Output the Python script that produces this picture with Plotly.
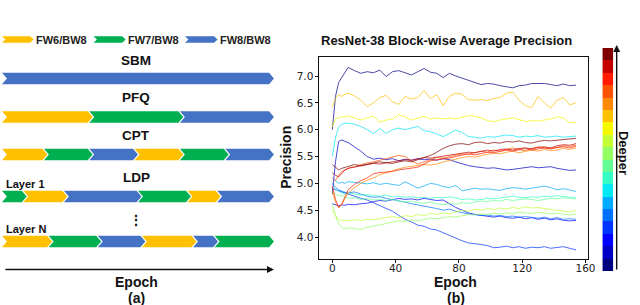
import numpy as np
import plotly.graph_objects as go

# ---------------- data: panel (b) ----------------
EPOCHS = [0, 2, 4, 6, 8, 10, 14, 18, 22, 26, 30, 34, 38, 42, 46, 50, 54, 58, 62, 66, 70,
          74, 78, 82, 86, 90, 94, 98, 102, 106, 110, 114, 118, 122, 126, 130, 134, 138,
          142, 146, 150, 154]

BLOCK_00 = [6.00, 6.62, 6.88, 6.98, 7.08, 7.16, 7.10, 7.05, 7.08, 7.06, 7.11, 6.99, 7.08, 7.10,
            7.06, 7.02, 7.08, 7.14, 7.07, 7.05, 6.97, 7.05, 7.00, 6.96, 6.92, 6.87, 6.84, 6.86,
            6.85, 6.82, 6.80, 6.78, 6.82, 6.83, 6.86, 6.86, 6.86, 6.84, 6.82, 6.85, 6.82, 6.83]
BLOCK_01 = [4.80, 5.40, 5.78, 5.81, 5.78, 5.76, 5.68, 5.60, 5.50, 5.45, 5.47, 5.44, 5.46, 5.42,
            5.45, 5.43, 5.46, 5.44, 5.45, 5.43, 5.46, 5.44, 5.40, 5.36, 5.33, 5.31, 5.30, 5.28,
            5.29, 5.27, 5.25, 5.26, 5.28, 5.30, 5.31, 5.29, 5.30, 5.31, 5.28, 5.26, 5.24, 5.25]
BLOCK_02 = [4.62, 4.60, 4.58, 4.60, 4.59, 4.61, 4.60, 4.62, 4.63, 4.66, 4.68, 4.67, 4.70, 4.72,
            4.70, 4.71, 4.69, 4.72, 4.70, 4.68, 4.69, 4.62, 4.55, 4.50, 4.45, 4.42, 4.40, 4.38,
            4.37, 4.39, 4.36, 4.35, 4.37, 4.34, 4.36, 4.33, 4.35, 4.32, 4.34, 4.31, 4.30, 4.31]
BLOCK_03 = [4.90, 4.88, 4.85, 4.83, 4.82, 4.80, 4.76, 4.72, 4.69, 4.64, 4.58, 4.54, 4.48, 4.40,
            4.33, 4.28, 4.22, 4.20, 4.15, 4.13, 4.08, 4.02, 3.98, 3.93, 3.89, 3.88, 3.86, 3.84,
            3.80, 3.81, 3.83, 3.80, 3.82, 3.79, 3.81, 3.80, 3.82, 3.79, 3.80, 3.82, 3.79, 3.76]
BLOCK_04 = [5.00, 4.92, 4.88, 4.85, 4.83, 4.82, 4.84, 4.80, 4.76, 4.74, 4.75, 4.72, 4.70, 4.68,
            4.65, 4.62, 4.60, 4.58, 4.55, 4.53, 4.50, 4.52, 4.48, 4.45, 4.43, 4.42, 4.40, 4.41,
            4.39, 4.40, 4.38, 4.39, 4.37, 4.38, 4.36, 4.35, 4.37, 4.34, 4.36, 4.33, 4.34, 4.33]
BLOCK_05 = [5.10, 5.05, 5.00, 5.02, 5.00, 5.03, 5.02, 5.00, 4.99, 5.01, 4.98, 5.00, 4.98, 4.96,
            5.03, 4.97, 4.91, 4.95, 5.00, 4.98, 4.94, 4.92, 4.96, 4.86, 4.88, 4.91, 4.89, 4.90,
            4.88, 4.87, 4.90, 4.92, 4.91, 4.89, 4.91, 4.93, 4.95, 4.92, 4.88, 4.90, 4.87, 4.85]
BLOCK_06 = [5.50, 5.85, 6.05, 6.10, 6.12, 6.12, 6.10, 6.06, 6.00, 5.93, 6.02, 5.93, 6.00, 6.03,
            6.00, 6.03, 6.06, 5.98, 5.96, 5.92, 5.87, 5.93, 5.99, 5.95, 5.87, 5.86, 5.84, 5.87,
            5.86, 5.88, 5.90, 5.89, 5.86, 5.88, 5.87, 5.89, 5.86, 5.87, 5.88, 5.86, 5.87, 5.88]
BLOCK_07 = [4.95, 4.88, 4.85, 4.82, 4.80, 4.82, 4.80, 4.78, 4.79, 4.77, 4.76, 4.78, 4.75, 4.76,
            4.74, 4.75, 4.73, 4.74, 4.72, 4.74, 4.73, 4.75, 4.72, 4.70, 4.71, 4.69, 4.70, 4.72,
            4.71, 4.73, 4.74, 4.76, 4.74, 4.73, 4.75, 4.74, 4.76, 4.75, 4.77, 4.75, 4.74, 4.73]
BLOCK_08 = [4.85, 4.80, 4.76, 4.78, 4.74, 4.72, 4.73, 4.70, 4.72, 4.69, 4.70, 4.68, 4.70, 4.67,
            4.65, 4.67, 4.64, 4.63, 4.65, 4.62, 4.60, 4.63, 4.61, 4.64, 4.62, 4.65, 4.67, 4.66,
            4.68, 4.67, 4.70, 4.68, 4.69, 4.71, 4.70, 4.68, 4.70, 4.72, 4.71, 4.73, 4.72, 4.71]
BLOCK_09 = [4.60, 4.40, 4.25, 4.18, 4.15, 4.17, 4.16, 4.14, 4.18, 4.20, 4.22, 4.25, 4.28, 4.30,
            4.29, 4.32, 4.30, 4.33, 4.35, 4.34, 4.36, 4.38, 4.37, 4.40, 4.42, 4.41, 4.43, 4.42,
            4.44, 4.43, 4.45, 4.44, 4.46, 4.45, 4.44, 4.46, 4.45, 4.43, 4.44, 4.42, 4.41, 4.43]
BLOCK_10 = [4.50, 4.40, 4.33, 4.30, 4.31, 4.30, 4.32, 4.31, 4.33, 4.32, 4.34, 4.36, 4.38, 4.36,
            4.40, 4.38, 4.42, 4.40, 4.44, 4.42, 4.45, 4.43, 4.47, 4.50, 4.48, 4.52, 4.50, 4.53,
            4.51, 4.54, 4.52, 4.55, 4.53, 4.56, 4.54, 4.55, 4.53, 4.51, 4.50, 4.48, 4.47, 4.49]
BLOCK_11 = [6.05, 6.20, 6.22, 6.24, 6.23, 6.26, 6.22, 6.18, 6.22, 6.25, 6.14, 6.18, 6.20, 6.28,
            6.24, 6.18, 6.21, 6.25, 6.20, 6.22, 6.20, 6.22, 6.20, 6.23, 6.26, 6.25, 6.22, 6.17,
            6.15, 6.18, 6.20, 6.22, 6.19, 6.15, 6.17, 6.16, 6.18, 6.20, 6.24, 6.22, 6.13, 6.13]
BLOCK_12 = [6.42, 6.58, 6.65, 6.62, 6.66, 6.68, 6.63, 6.55, 6.43, 6.50, 6.60, 6.64, 6.52, 6.47,
            6.62, 6.57, 6.60, 6.73, 6.58, 6.65, 6.45, 6.62, 6.68, 6.66, 6.56, 6.55, 6.56, 6.54,
            6.58, 6.60, 6.68, 6.70, 6.55, 6.45, 6.41, 6.62, 6.50, 6.40, 6.55, 6.60, 6.46, 6.50]
BLOCK_13 = [4.85, 4.65, 4.55, 4.60, 4.72, 4.82, 4.92, 5.00, 5.06, 5.10, 5.16, 5.20, 5.24, 5.27,
            5.30, 5.32, 5.33, 5.35, 5.34, 5.36, 5.40, 5.42, 5.45, 5.48, 5.50, 5.49, 5.52, 5.54,
            5.56, 5.55, 5.58, 5.60, 5.57, 5.59, 5.62, 5.60, 5.63, 5.61, 5.62, 5.65, 5.63, 5.66]
BLOCK_14 = [5.10, 5.05, 5.15, 5.22, 5.25, 5.28, 5.31, 5.35, 5.38, 5.40, 5.43, 5.45, 5.48, 5.52,
            5.50, 5.42, 5.36, 5.40, 5.45, 5.48, 5.47, 5.50, 5.53, 5.55, 5.54, 5.57, 5.60, 5.58,
            5.62, 5.60, 5.63, 5.66, 5.63, 5.61, 5.65, 5.68, 5.66, 5.64, 5.67, 5.70, 5.69, 5.71]
BLOCK_15 = [4.95, 4.70, 4.55, 4.62, 4.75, 4.88, 4.98, 5.05, 5.10, 5.18, 5.20, 5.21, 5.22, 5.25,
            5.27, 5.28, 5.30, 5.36, 5.42, 5.44, 5.45, 5.47, 5.50, 5.52, 5.55, 5.53, 5.56, 5.58,
            5.57, 5.60, 5.62, 5.60, 5.63, 5.65, 5.62, 5.64, 5.66, 5.65, 5.67, 5.68, 5.66, 5.69]
BLOCK_16 = [5.20, 5.15, 5.12, 5.18, 5.25, 5.28, 5.30, 5.33, 5.35, 5.37, 5.36, 5.38, 5.40, 5.42,
            5.44, 5.43, 5.46, 5.48, 5.47, 5.49, 5.50, 5.53, 5.55, 5.56, 5.58, 5.57, 5.60, 5.62,
            5.60, 5.63, 5.64, 5.62, 5.65, 5.66, 5.64, 5.67, 5.68, 5.66, 5.70, 5.72, 5.71, 5.74]
BLOCK_17 = [5.35, 5.30, 5.25, 5.28, 5.30, 5.32, 5.35, 5.33, 5.36, 5.38, 5.40, 5.38, 5.37, 5.40,
            5.42, 5.40, 5.44, 5.48, 5.52, 5.58, 5.65, 5.70, 5.73, 5.74, 5.72, 5.76, 5.77, 5.74,
            5.76, 5.75, 5.78, 5.77, 5.79, 5.76, 5.75, 5.78, 5.80, 5.79, 5.80, 5.81, 5.82, 5.84]

BLOCKS = [BLOCK_00, BLOCK_01, BLOCK_02, BLOCK_03, BLOCK_04, BLOCK_05, BLOCK_06, BLOCK_07,
          BLOCK_08, BLOCK_09, BLOCK_10, BLOCK_11, BLOCK_12, BLOCK_13, BLOCK_14, BLOCK_15,
          BLOCK_16, BLOCK_17]

X_TICKS = [0, 40, 80, 120, 160]
Y_TICKS = [4.0, 4.5, 5.0, 5.5, 6.0, 6.5, 7.0]

# ---------------- data: panel (a) ----------------
MODES = ["FW6/BW8", "FW7/BW8", "FW8/BW8"]
MODE_COLORS = {"FW6/BW8": "#FFC000", "FW7/BW8": "#00B050", "FW8/BW8": "#4472C4"}
PLAN_SBM = [("FW8/BW8", 1)]
PLAN_PFQ = [("FW6/BW8", 1), ("FW7/BW8", 1), ("FW8/BW8", 1)]
PLAN_CPT = [("FW6/BW8", 1), ("FW7/BW8", 1), ("FW8/BW8", 1),
            ("FW6/BW8", 1), ("FW7/BW8", 1), ("FW8/BW8", 1)]
PLAN_LDP_1 = [("FW7/BW8", 25), ("FW6/BW8", 41), ("FW8/BW8", 75),
              ("FW7/BW8", 50), ("FW6/BW8", 30), ("FW8/BW8", 54)]
PLAN_LDP_N = [("FW6/BW8", 51), ("FW7/BW8", 50), ("FW8/BW8", 45),
              ("FW6/BW8", 52), ("FW8/BW8", 22), ("FW7/BW8", 57)]

# ---------------- helpers ----------------
W, H = 640, 305
FONT = "Liberation Sans, Arial, sans-serif"


def jet(t):
    r = np.interp(t, [0, 0.35, 0.66, 0.89, 1], [0, 0, 1, 1, 0.5])
    g = np.interp(t, [0, 0.125, 0.375, 0.64, 0.91, 1], [0, 0, 1, 1, 0, 0])
    b = np.interp(t, [0, 0.11, 0.34, 0.65, 1], [0.5, 1, 1, 0, 0])
    return "rgb(%d,%d,%d)" % (round(r * 255), round(g * 255), round(b * 255))


fig = go.Figure()
n = len(BLOCKS)
for i, ys in enumerate(BLOCKS):
    fig.add_trace(go.Scatter(x=EPOCHS, y=ys, mode="lines",
                             line=dict(color=jet(i / (n - 1)), width=1.0),
                             opacity=0.7, hoverinfo="skip", showlegend=False,
                             xaxis="x", yaxis="y"))

# colorbar as banded heatmap
fig.add_trace(go.Heatmap(z=[[i] for i in range(n)],
                         colorscale=[[i / (n - 1), jet(i / (n - 1))] for i in range(n)],
                         showscale=False, hoverinfo="skip", xaxis="x3", yaxis="y3"))


# chevrons (panel a), drawn in a pixel-coordinate overlay axis
def chevron(x0, x1, yc, h, p, color):
    xs = [x0, x1 - p, x1, x1 - p, x0, x0 + p, x0]
    ys = [yc - h, yc - h, yc, yc + h, yc + h, yc, yc - h]
    fig.add_trace(go.Scatter(x=xs, y=ys, mode="lines", fill="toself", fillcolor=color,
                             line=dict(width=0, color=color), hoverinfo="skip",
                             showlegend=False, xaxis="x2", yaxis="y2"))


def row(plan, yc, x0=2.0, x1=277.0, h=5.8, p=5.0, gap=1.6):
    total = sum(v for _, v in plan)
    cum = 0
    bounds = [x0]
    for _, v in plan:
        cum += v
        bounds.append(x0 + (x1 - x0) * cum / total)
    for k, (mode, _) in enumerate(plan):
        a = bounds[k] if k == 0 else bounds[k] - p + gap
        chevron(a, bounds[k + 1], yc, h, p, MODE_COLORS[mode])


row(PLAN_SBM, 78.5)
row(PLAN_PFQ, 117)
row(PLAN_CPT, 154.5)
row(PLAN_LDP_1, 196.5)
row(PLAN_LDP_N, 241.5)

legend_x = [(2, 34), (94.5, 127), (187, 220)]
for (a, b), mode in zip(legend_x, MODES):
    chevron(a, b, 39.5, 3.2, 3.5, MODE_COLORS[mode])

ann = []


def txt(x, y, s, size=13, bold=True, xanchor="center", angle=0, color="#111", family=FONT):
    ann.append(dict(x=x, y=y, xref="x2", yref="y2", text=("<b>%s</b>" % s) if bold else s,
                    showarrow=False, xanchor=xanchor, yanchor="middle", textangle=angle,
                    font=dict(family=family, size=size, color=color)))


for (a, b), mode in zip(legend_x, MODES):
    txt(b + 0.5, 40, mode, size=11, bold=True, xanchor="left", color="#222")
txt(138, 60, "SBM", 13.5)
txt(138, 97.5, "PFQ", 13.5)
txt(138, 135, "CPT", 13.5)
txt(138, 177, "LDP", 13.5)
txt(4, 183.5, "Layer 1", 11, xanchor="left")
txt(4, 229, "Layer N", 11, xanchor="left")
txt(137.5, 220, "⋮", 14)
txt(138, 282, "Epoch", 14)
txt(138, 297.5, "(a)", 14)

txt(451, 40, "ResNet-38 Block-wise Average Precision", 13)
txt(289, 157, "Precision", 14, angle=-90)
txt(461, 281.5, "Epoch", 14)
txt(461, 297.5, "(b)", 14)
txt(631, 153, "Deeper", 13, angle=90)

# arrows
ann.append(dict(x=277, y=269.5, ax=4, ay=269.5, xref="x2", yref="y2", axref="x2", ayref="y2",
                text="", showarrow=True, arrowhead=2, arrowsize=1, arrowwidth=1.4,
                arrowcolor="#111", standoff=0))
ann.append(dict(x=623.5, y=45, ax=623.5, ay=271, xref="x2", yref="y2", axref="x2", ayref="y2",
                text="", showarrow=True, arrowhead=2, arrowsize=1, arrowwidth=1.4,
                arrowcolor="#111", standoff=0))

x_lo, x_hi = -8.125, 161.875
y_lo, y_hi = 3.590, 7.354
tickfont = dict(family="DejaVu Sans, sans-serif", size=10.5, color="#222")

fig.update_layout(
    width=W, height=H, autosize=False,
    margin=dict(l=0, r=0, t=0, b=0),
    paper_bgcolor="white", plot_bgcolor="rgba(0,0,0,0)",
    showlegend=False,
    xaxis=dict(domain=[323 / W, 595 / W], range=[x_lo, x_hi], tickvals=X_TICKS,
               ticks="outside", ticklen=3, tickwidth=1, tickcolor="#111",
               ticklabelstandoff=-4,
               showline=True, mirror=True, linecolor="#111", linewidth=1,
               showgrid=False, zeroline=False, tickfont=tickfont, anchor="y"),
    yaxis=dict(domain=[1 - 259 / H, 1 - 57 / H], range=[y_lo, y_hi], tickvals=Y_TICKS,
               tickformat=".1f", ticks="outside", ticklen=3, tickwidth=1, tickcolor="#111",
               showline=True, mirror=True, linecolor="#111", linewidth=1,
               showgrid=False, zeroline=False, tickfont=tickfont, anchor="x"),
    xaxis2=dict(domain=[0, 1], range=[0, W], visible=False, anchor="y2", fixedrange=True),
    yaxis2=dict(domain=[0, 1], range=[H, 0], visible=False, anchor="x2", fixedrange=True),
    xaxis3=dict(domain=[609 / W, 620 / W], range=[-0.5, 0.5], visible=False, anchor="y3"),
    yaxis3=dict(domain=[1 - 271 / H, 1 - 48 / H], range=[-0.5, n - 0.5], visible=False,
                anchor="x3"),
    annotations=ann,
)

fig.write_html("out.html", config={"displayModeBar": False},
               post_script="document.body.style.margin='0';document.body.style.overflow='hidden';")
